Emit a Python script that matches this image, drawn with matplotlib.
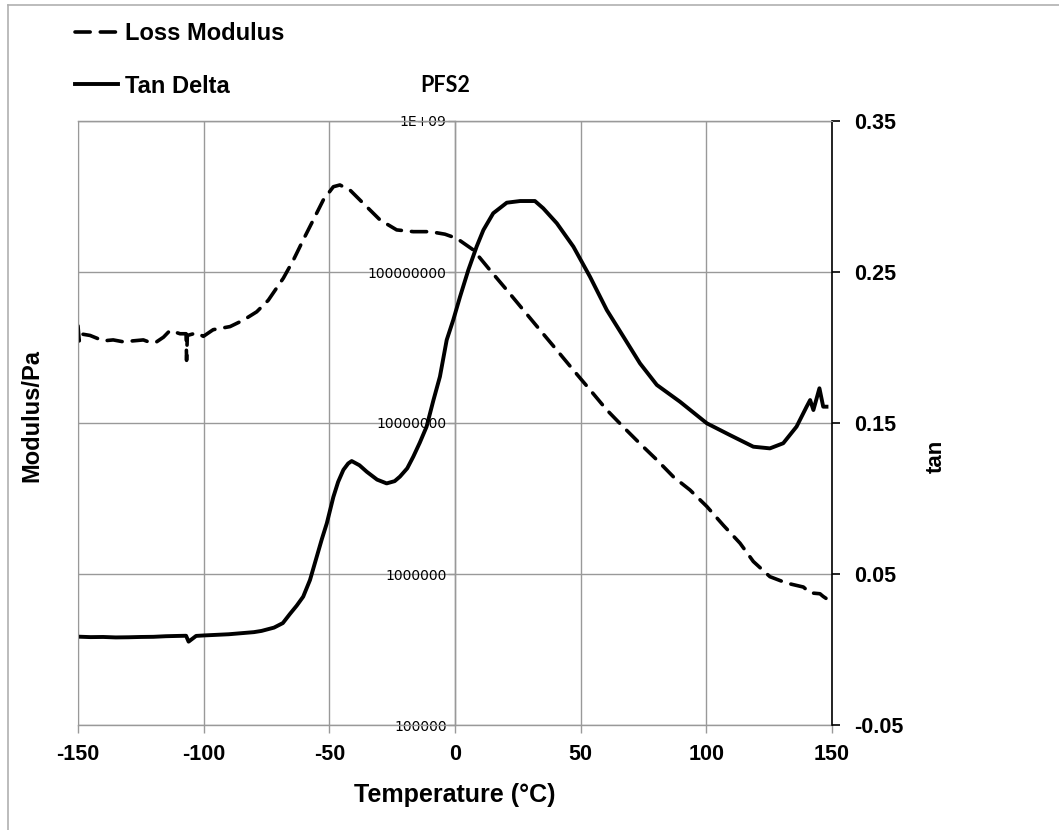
import matplotlib
matplotlib.use("Agg")
import matplotlib.pyplot as plt
from matplotlib.lines import Line2D

# loss modulus (Pa)
loss_T = [-150, -149.5, -149.2, -145.2, -139.9, -136, -132, -128, -124, -121,
          -118.7, -116, -113.4, -109.4, -107, -106.8, -106.5, -102.8, -100.1, -96.2,
          -89.5, -84.2, -78.9, -74.3, -68.3, -64.3, -60.4, -56.4, -52.4, -48.4,
          -45.8, -41.8, -36.5, -29.8, -23.2, -16.6, -9.9, -4, 0.7, 7.3,
          13.9, 20.6, 27.2, 33.8, 40.5, 47.1, 53.7, 60.4, 67, 73.6,
          80.3, 86.9, 93.5, 100.2, 106.8, 113.4, 118.7, 125.3, 132, 138.6,
          141.3, 145.2, 146.5, 147.6]
loss_mod = [4.4e7, 3.5e7, 3.9e7, 3.8e7, 3.5e7, 3.55e7, 3.45e7, 3.5e7, 3.55e7, 3.4e7,
            3.45e7, 3.7e7, 4.1e7, 3.9e7, 3.9e7, 2.6e7, 3.8e7, 3.95e7, 3.75e7, 4.15e7,
            4.35e7, 4.8e7, 5.45e7, 6.5e7, 9.1e7, 1.2e8, 1.63e8, 2.21e8, 3.0e8, 3.67e8,
            3.77e8, 3.49e8, 2.85e8, 2.21e8, 1.9e8, 1.85e8, 1.85e8, 1.78e8, 1.67e8, 1.40e8,
            1.03e8, 7.6e7, 5.6e7, 4.13e7, 3.04e7, 2.24e7, 1.66e7, 1.22e7, 9.4e6, 7.3e6,
            5.7e6, 4.4e6, 3.6e6, 2.8e6, 2.1e6, 1.6e6, 1.21e6, 9.6e5, 8.7e5, 8.2e5,
            7.5e5, 7.4e5, 7.1e5, 6.9e5]

# tan delta
tan_T = [-150, -145, -140, -135, -130, -125, -120, -115, -110, -107,
         -106, -103, -100, -95, -90, -85, -80, -77, -72, -68.5,
         -65.7, -63, -60.4, -57.7, -55, -53, -51, -48.4, -46.5, -44.4,
         -42.5, -41.1, -38, -35.1, -31, -27.2, -24, -21.9, -19, -16.6,
         -14, -11.3, -8.6, -6, -3.3, -0.7, 2, 5.3, 8.6, 11.3,
         15.2, 20.6, 25.9, 31.8, 35.1, 40.5, 47.1, 53.7, 60.4, 67,
         73.6, 80.3, 89.5, 100.2, 109.4, 118.7, 125.3, 130.6, 135.9, 139.9,
         141.3, 142.6, 145, 146.5, 147.8]
tan_delta = [0.0085, 0.0082, 0.0083, 0.0080, 0.0081, 0.0083, 0.0084, 0.0088, 0.0090, 0.0091,
             0.0052, 0.0090, 0.0093, 0.0097, 0.0101, 0.0108, 0.0115, 0.0123, 0.0145, 0.0175,
             0.0235, 0.0290, 0.0350, 0.0460, 0.0615, 0.0730, 0.0836, 0.1010, 0.1110, 0.1190,
             0.1232, 0.1248, 0.1220, 0.1177, 0.1125, 0.1100, 0.1115, 0.1145, 0.1200, 0.1277,
             0.1370, 0.1476, 0.1650, 0.1807, 0.2050, 0.2182, 0.2336, 0.2513, 0.2668, 0.2778,
             0.2889, 0.2959, 0.2970, 0.2970, 0.2922, 0.2823, 0.2668, 0.2469, 0.2248, 0.2072,
             0.1895, 0.1752, 0.1641, 0.1498, 0.1420, 0.1343, 0.1332, 0.1366, 0.1476, 0.1608,
             0.1652, 0.1586, 0.1730, 0.1608, 0.1608]

x_ticks = [-150, -100, -50, 0, 50, 100, 150]
mod_ticks = [1e5, 1e6, 1e7, 1e8, 1e9]
mod_labels = ["100000", "1000000", "10000000", "100000000", "1E+09"]
tan_ticks = [-0.05, 0.05, 0.15, 0.25, 0.35]
tan_labels = ["-0.05", "0.05", "0.15", "0.25", "0.35"]

W, H = 1059, 830
grey = "#999999"
bold = dict(family="Liberation Sans", weight="bold")

fig = plt.figure(figsize=(W / 100, H / 100), dpi=100)
ax = fig.add_axes([78 / W, 1 - 725 / H, 754 / W, 604 / H])
ax2 = ax.twinx()

ax.plot(loss_T, loss_mod, color="black", lw=2.6, dashes=(4.2, 2.8),
        solid_capstyle="round", dash_capstyle="round", label="Loss Modulus")
ax2.plot(tan_T, tan_delta, color="black", lw=2.8, label="Tan Delta")

ax.set_xlim(-150, 150)
ax.set_yscale("log")
ax.set_ylim(1e5, 1e9)
ax.set_xticks(x_ticks)
ax.set_xticklabels([str(t) for t in x_ticks], fontsize=15.5, **bold)
ax.set_yticks(mod_ticks)
ax.set_yticklabels(mod_labels, family="Lato", fontsize=10.5)
ax.yaxis.set_minor_locator(matplotlib.ticker.NullLocator())
ax.grid(True, color=grey, lw=1.0)
ax.set_axisbelow(True)

ax.spines["left"].set_position(("data", 0))
ax.spines["left"].set_color(grey)
ax.spines["bottom"].set_color(grey)
ax.spines["top"].set_color(grey)
ax.spines["right"].set_visible(False)
for s in ("left", "bottom", "top"):
    ax.spines[s].set_linewidth(1.0)
ax.tick_params(axis="x", colors=grey, length=6, width=1.0, pad=8, labelcolor="black")
ax.tick_params(axis="y", colors=grey, length=5, width=1.0, pad=1, labelcolor="black")

ax2.set_ylim(-0.05, 0.35)
ax2.set_yticks(tan_ticks)
ax2.set_yticklabels(tan_labels, fontsize=15.5, **bold)
ax2.spines["right"].set_color("black")
ax2.spines["right"].set_linewidth(1.2)
ax2.spines["left"].set_color(grey)
ax2.spines["top"].set_color(grey)
ax2.spines["bottom"].set_visible(False)
ax2.tick_params(axis="y", colors="black", length=6, width=1.2, pad=10)

fig.text(455 / W, 1 - 795 / H, "Temperature (°C)", ha="center", va="center",
         fontsize=18, **bold)
fig.text(32 / W, 1 - 415 / H, "Modulus/Pa", ha="center", va="center",
         rotation=90, fontsize=17, **bold)
fig.text(936 / W, 1 - 456 / H, "tan", ha="center", va="center",
         rotation=90, fontsize=16, **bold)
fig.text(445 / W, 1 - 86 / H, "PFS2", ha="center", va="center",
         family="Lato", weight="bold", fontsize=15.5)

h1, l1 = ax.get_legend_handles_labels()
h2, l2 = ax2.get_legend_handles_labels()
fig.legend(h1 + h2, l1 + l2, loc="upper left", bbox_to_anchor=(75 / W, 1 - 22 / H),
           frameon=False, borderpad=0, borderaxespad=0, handlelength=1.8,
           handletextpad=0.3, labelspacing=1.25, prop=dict(size=17, **bold))

# outer chart border (only top and left edges fall inside the picture)
fig.add_artist(Line2D([8 / W, 8 / W], [0, 1 - 5 / H], color="#b0b0b0", lw=1.2))
fig.add_artist(Line2D([8 / W, 1], [1 - 5 / H, 1 - 5 / H], color="#b0b0b0", lw=1.2))

fig.savefig("out.png", dpi=100)
